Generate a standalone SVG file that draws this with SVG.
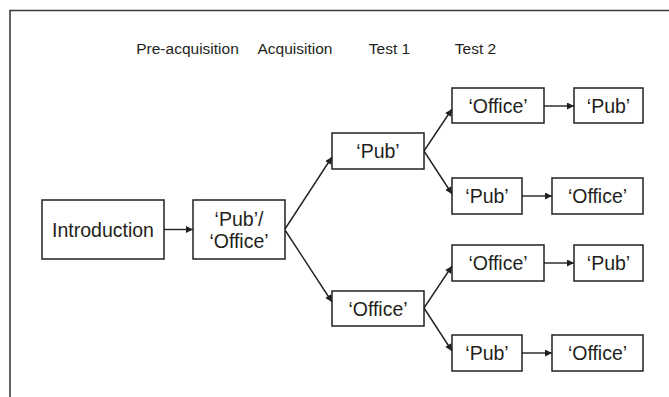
<svg xmlns="http://www.w3.org/2000/svg" width="669" height="397" viewBox="0 0 669 397">
<style>
  .box { fill: #ffffff; stroke: #231f20; stroke-width: 1.5; }
  .t { font-family: "Liberation Sans", Arial, sans-serif; font-size: 19.5px; fill: #231f20; text-anchor: middle; }
  .h { font-family: "Liberation Sans", Arial, sans-serif; font-size: 15.5px; fill: #231f20; text-anchor: middle; }
  .c { fill: none; stroke: #231f20; stroke-width: 1.4; marker-end: url(#ah); }
  .frame { fill: none; stroke: #3a3a3a; stroke-width: 1.6; }
</style>
<defs>
  <marker id="ah" viewBox="0 0 10 10" refX="10" refY="5" markerUnits="userSpaceOnUse" markerWidth="9" markerHeight="7" orient="auto">
    <path d="M0,0 L10,5 L0,10 Z" fill="#231f20"/>
  </marker>
</defs>
<rect width="669" height="397" fill="#ffffff"/>
<path class="frame" d="M10,397 L10,10.5 L669,10.5"/>

<g id="headers">
  <text class="h" x="187.5" y="54">Pre-acquisition</text>
  <text class="h" x="295" y="54">Acquisition</text>
  <text class="h" x="389.5" y="54">Test 1</text>
  <text class="h" x="475.5" y="54">Test 2</text>
</g>

<g id="connectors">
  <line class="c" x1="164" y1="229.5" x2="193" y2="229.5"/>
  <line class="c" x1="285" y1="229" x2="332" y2="157"/>
  <line class="c" x1="285" y1="230" x2="332" y2="302"/>
  <line class="c" x1="424" y1="151" x2="452" y2="109"/>
  <line class="c" x1="424" y1="151" x2="452" y2="194"/>
  <line class="c" x1="424" y1="308" x2="452" y2="266"/>
  <line class="c" x1="424" y1="308" x2="452" y2="351"/>
  <line class="c" x1="544" y1="106" x2="574" y2="106"/>
  <line class="c" x1="522" y1="196" x2="552" y2="196"/>
  <line class="c" x1="544" y1="263" x2="574" y2="263"/>
  <line class="c" x1="522" y1="353" x2="552" y2="353"/>
</g>

<g id="introduction">
  <rect class="box" x="42" y="200" width="122" height="59"/>
  <text class="t" x="103" y="236.5">Introduction</text>
</g>
<g id="preacq">
  <rect class="box" x="193" y="200" width="92" height="59"/>
  <text class="t" x="239" y="225.5">‘Pub’/</text>
  <text class="t" x="239" y="247.5">‘Office’</text>
</g>
<g id="acq-pub">
  <rect class="box" x="332" y="133" width="92" height="36"/>
  <text class="t" x="378" y="158">‘Pub’</text>
</g>
<g id="acq-office">
  <rect class="box" x="332" y="291" width="92" height="35"/>
  <text class="t" x="378" y="315.5">‘Office’</text>
</g>
<g id="t1-office-a">
  <rect class="box" x="452" y="88" width="92" height="35"/>
  <text class="t" x="498" y="112.5">‘Office’</text>
</g>
<g id="t2-pub-a">
  <rect class="box" x="574" y="88" width="69" height="35"/>
  <text class="t" x="608.5" y="112.5">‘Pub’</text>
</g>
<g id="t1-pub-b">
  <rect class="box" x="452" y="178" width="70" height="36"/>
  <text class="t" x="487" y="203">‘Pub’</text>
</g>
<g id="t2-office-b">
  <rect class="box" x="552" y="178" width="91" height="36"/>
  <text class="t" x="597.5" y="203">‘Office’</text>
</g>
<g id="t1-office-c">
  <rect class="box" x="452" y="245" width="92" height="36"/>
  <text class="t" x="498" y="270">‘Office’</text>
</g>
<g id="t2-pub-c">
  <rect class="box" x="574" y="245" width="69" height="36"/>
  <text class="t" x="608.5" y="270">‘Pub’</text>
</g>
<g id="t1-pub-d">
  <rect class="box" x="452" y="335" width="70" height="36"/>
  <text class="t" x="487" y="360">‘Pub’</text>
</g>
<g id="t2-office-d">
  <rect class="box" x="552" y="335" width="91" height="36"/>
  <text class="t" x="597.5" y="360">‘Office’</text>
</g>
</svg>
